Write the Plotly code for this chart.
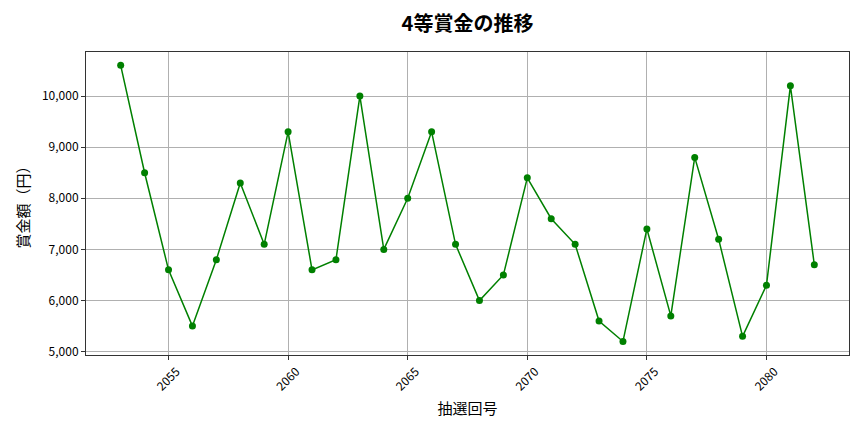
import plotly.graph_objects as go

# %% data
draw_no = list(range(2053, 2083))
prize_yen = [
    10600, 8500, 6600, 5500, 6800, 8300, 7100, 9300, 6600, 6800,
    10000, 7000, 8000, 9300, 7100, 6000, 6500, 8400, 7600, 7100,
    5600, 5200, 7400, 5700, 8800, 7200, 5300, 6300, 10200, 6700,
]
x_ticks = [2055, 2060, 2065, 2070, 2075, 2080]
y_ticks = [5000, 6000, 7000, 8000, 9000, 10000]

font_jp = 'Noto Sans CJK JP'

# %% plot
fig = go.Figure()
fig.add_trace(go.Scatter(
    x=draw_no,
    y=prize_yen,
    mode='lines+markers',
    line=dict(color='green', width=1.5),
    marker=dict(color='green', size=7),
    showlegend=False,
))

axis_common = dict(
    showline=True,
    mirror=True,
    linecolor='#333333',
    linewidth=1,
    showgrid=True,
    gridcolor='#b0b0b0',
    gridwidth=0.8,
    ticks='outside',
    ticklen=4,
    tickcolor='#333333',
    zeroline=False,
    automargin=False,
    tickfont=dict(family=font_jp, size=12, color='black'),
)

fig.update_xaxes(
    axis_common,
    range=[2051.55, 2083.45],
    tickvals=x_ticks,
    tickangle=-45,
    ticklabelshift=8,
    title=dict(text='抽選回号', font=dict(family=font_jp, size=15, color='black'), standoff=10),
)
fig.update_yaxes(
    axis_common,
    range=[4935, 10861],
    tickvals=y_ticks,
    tickformat=',d',
    title=dict(text='賞金額（円）', font=dict(family=font_jp, size=15, color='black'), standoff=8),
)

# the page body has an 8px margin, so the figure is a bit smaller than the window
fig.update_layout(
    width=856,
    height=424,
    margin=dict(l=78, r=15, t=44, b=77),
    plot_bgcolor='white',
    paper_bgcolor='white',
    title=dict(
        text='<b>4等賞金の推移</b>',
        xref='paper',
        x=0.5,
        xanchor='center',
        y=0.962,
        yanchor='middle',
        font=dict(family=font_jp, size=20, color='black'),
    ),
)

fig.write_html('out.html')
